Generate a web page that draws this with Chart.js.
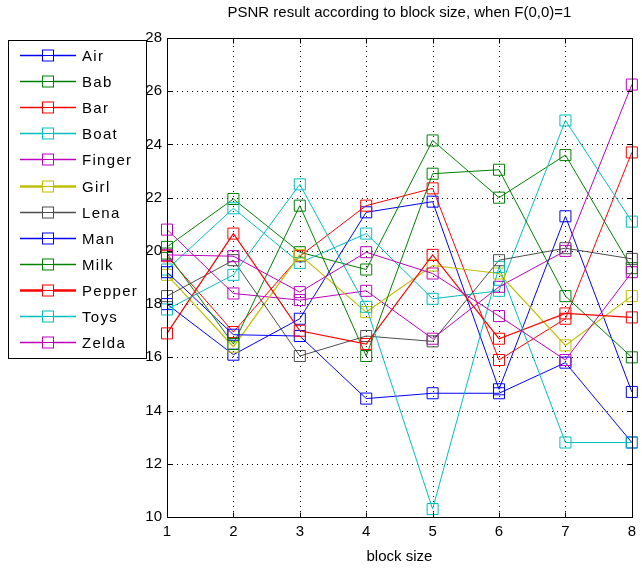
<!DOCTYPE html>
<html><head><meta charset="utf-8">
<script src="https://cdn.jsdelivr.net/npm/chart.js@4.4.0/dist/chart.umd.min.js"></script>
<style>html,body{margin:0;padding:0;background:#fff;}#wrap{width:642px;height:569px;}</style>
</head><body><div id="wrap"><canvas id="c" width="642" height="569"></canvas></div>
<script>
const blockSizes = [1, 2, 3, 4, 5, 6, 7, 8];
const yTicks = [10, 12, 14, 16, 18, 20, 22, 24, 26, 28];
const titleText = 'PSNR result according to block size, when F(0,0)=1';
const xTitle = 'block size';
const seriesNames = ['Air', 'Bab', 'Bar', 'Boat', 'Finger', 'Girl', 'Lena', 'Man', 'Milk', 'Pepper', 'Toys', 'Zelda'];
const air    = [18.0, 16.1, 17.45, 21.45, 21.85, 14.8, 21.3, 14.7];
const bab    = [20.15, 21.95, 19.95, 19.3, 24.15, 22.0, 23.6, 19.35];
const bar    = [19.8, 16.95, 19.8, 21.7, 22.35, 15.9, 17.45, 23.7];
const boat   = [19.3, 21.6, 19.55, 20.65, 18.2, 18.5, 24.9, 21.1];
const finger = [20.8, 18.4, 18.15, 18.5, 16.7, 18.65, 20.0, 26.25];
const girl   = [19.1, 16.4, 19.85, 17.7, 19.45, 19.15, 16.45, 18.3];
const lena   = [18.3, 19.65, 16.05, 16.8, 16.6, 19.65, 20.1, 19.7];
const man    = [19.2, 16.85, 16.8, 14.45, 14.65, 14.65, 15.8, 12.8];
const milk   = [19.9, 16.5, 21.7, 16.05, 22.9, 23.05, 18.3, 16.0];
const pepper = [16.9, 20.65, 17.0, 16.5, 19.85, 16.7, 17.65, 17.5];
const toys   = [17.8, 19.1, 22.5, 17.9, 10.3, 19.4, 12.8, 12.8];
const zelda  = [19.85, 19.8, 18.45, 19.95, 19.15, 17.55, 15.9, 19.2];

const seriesValues = [air, bab, bar, boat, finger, girl, lena, man, milk, pepper, toys, zelda];
const seriesColors = ['#0000ff', '#008000', '#ff0000', '#00bfbf', '#bf00bf', '#bfbf00', '#4d4d4d', '#0000ff', '#008000', '#ff0000', '#00bfbf', '#bf00bf'];
const plotWidths = [1, 1, 1, 1, 1, 1.2, 1, 1, 1, 1.2, 1, 1];
const legendWidths = [1.3, 1.3, 1.3, 1.3, 1.3, 2.4, 1.3, 1.3, 1.3, 2.4, 1.3, 1.3];

const FONT = '"Liberation Sans", Arial, sans-serif';

const datasets = seriesNames.map((name, i) => ({
  label: name,
  data: blockSizes.map((b, j) => ({x: b, y: seriesValues[i][j]})),
  borderColor: seriesColors[i],
  backgroundColor: 'rgba(0,0,0,0)',
  borderWidth: plotWidths[i],
  pointStyle: 'rect',
  pointRadius: 7.8,
  pointBorderWidth: 1,
  pointBorderColor: seriesColors[i],
  pointBackgroundColor: 'rgba(0,0,0,0)',
  tension: 0,
  fill: false,
  clip: false,
  order: -i
}));

const frame = {
  id: 'frame',
  beforeDatasetsDraw(chart) {
    const {ctx, chartArea: a, scales: {x, y}} = chart;
    ctx.save();
    ctx.strokeStyle = '#000';
    ctx.lineWidth = 1;
    ctx.setLineDash([1, 4]);
    ctx.beginPath();
    x.ticks.forEach(t => {
      const px = Math.round(x.getPixelForValue(t.value)) + 0.5;
      ctx.moveTo(px, a.bottom); ctx.lineTo(px, a.top);
    });
    y.ticks.forEach(t => {
      const py = Math.round(y.getPixelForValue(t.value)) + 0.5;
      ctx.moveTo(a.left, py); ctx.lineTo(a.right, py);
    });
    ctx.stroke();
    ctx.restore();
  },
  afterDatasetsDraw(chart) {
    const {ctx, chartArea: a, scales: {x, y}} = chart;
    ctx.save();
    ctx.strokeStyle = '#000';
    ctx.lineWidth = 1;
    const L = Math.round(a.left) + 0.5, R = Math.round(a.right) + 0.5;
    const T = Math.round(a.top) + 0.5, B = Math.round(a.bottom) + 0.5;
    ctx.strokeRect(L, T, R - L, B - T);
    ctx.beginPath();
    x.ticks.forEach(t => {
      const px = Math.round(x.getPixelForValue(t.value)) + 0.5;
      ctx.moveTo(px, B); ctx.lineTo(px, B - 5);
      ctx.moveTo(px, T); ctx.lineTo(px, T + 5);
    });
    y.ticks.forEach(t => {
      const py = Math.round(y.getPixelForValue(t.value)) + 0.5;
      ctx.moveTo(L, py); ctx.lineTo(L + 5, py);
      ctx.moveTo(R, py); ctx.lineTo(R - 5, py);
    });
    ctx.stroke();
    ctx.restore();
  },
  afterDraw(chart) {
    const {ctx, chartArea: a} = chart;
    ctx.save();
    ctx.fillStyle = '#000';
    ctx.font = '15px ' + FONT;
    ctx.textAlign = 'center';
    ctx.textBaseline = 'middle';
    ctx.fillText(titleText, (a.left + a.right) / 2, 13);
    const lx = 8, ly = 40, lw = 138, lh = 318;
    ctx.fillStyle = '#fff';
    ctx.fillRect(lx, ly, lw, lh);
    ctx.strokeStyle = '#000';
    ctx.lineWidth = 1;
    ctx.strokeRect(lx + 0.5, ly + 0.5, lw, lh);
    ctx.font = '15px ' + FONT;
    ctx.textAlign = 'left';
    ctx.textBaseline = 'middle';
    try { ctx.letterSpacing = '1.3px'; } catch (e) {}
    chart.data.datasets.forEach((ds, i) => {
      const cy = Math.round(55 + i * 26.1) + 0.5;
      ctx.strokeStyle = ds.borderColor;
      ctx.lineWidth = legendWidths[i];
      ctx.beginPath();
      ctx.moveTo(20, cy); ctx.lineTo(76, cy);
      ctx.stroke();
      ctx.lineWidth = 1;
      ctx.fillStyle = '#fff';
      ctx.fillRect(42.5, cy - 5.5, 11, 11);
      ctx.strokeRect(42.5, cy - 5.5, 11, 11);
      ctx.beginPath();
      ctx.moveTo(42.5, cy); ctx.lineTo(53.5, cy);
      ctx.stroke();
      ctx.fillStyle = '#000';
      ctx.fillText(ds.label, 82, cy + 1);
    });
    ctx.restore();
  }
};

new Chart(document.getElementById('c'), {
  type: 'line',
  data: {datasets},
  plugins: [frame],
  options: {
    responsive: false,
    animation: false,
    events: [],
    layout: {padding: {left: 0, right: 7, top: 38, bottom: 0}},
    plugins: {legend: {display: false}, title: {display: false}, tooltip: {enabled: false}},
    scales: {
      x: {
        type: 'linear', min: 1, max: 8,
        afterBuildTicks: s => { s.ticks = blockSizes.map(v => ({value: v})); },
        afterFit: s => { s.height = 52; },
        ticks: {color: '#000', font: {family: FONT, size: 15}, padding: 6, maxRotation: 0, callback: v => String(v)},
        grid: {display: false, drawTicks: false},
        border: {display: false},
        title: {display: true, text: xTitle, color: '#000', font: {family: FONT, size: 15}, padding: {top: 0, bottom: 3}}
      },
      y: {
        type: 'linear', min: 10, max: 28,
        afterBuildTicks: s => { s.ticks = yTicks.map(v => ({value: v})); },
        afterFit: s => { s.width = 167; },
        ticks: {color: '#000', font: {family: FONT, size: 15}, padding: 5, callback: v => String(v)},
        grid: {display: false, drawTicks: false},
        border: {display: false}
      }
    }
  }
});
</script></body></html>
